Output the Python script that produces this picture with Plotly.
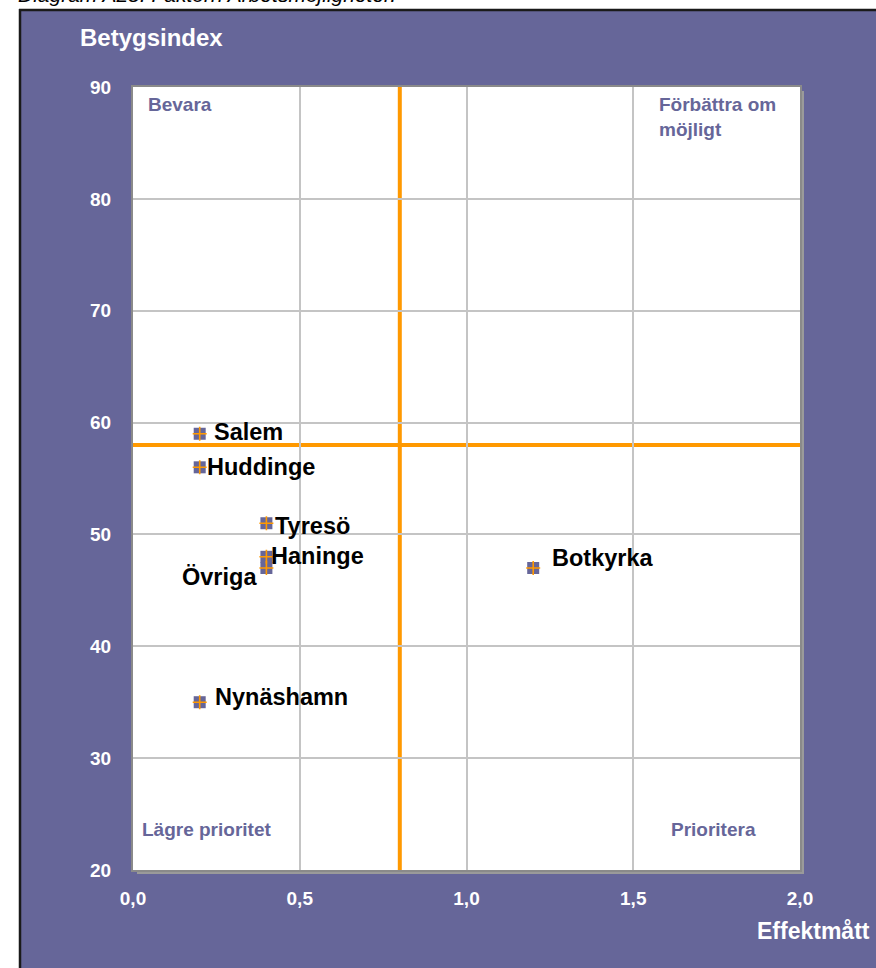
import plotly.graph_objects as go

# ---- data ----
names = ["Salem", "Huddinge", "Tyresö", "Haninge", "Övriga", "Botkyrka", "Nynäshamn"]
effektmatt = [0.2, 0.2, 0.4, 0.4, 0.4, 1.2, 0.2]
betygsindex = [59, 56, 51, 48, 47, 47, 35]
mean_effekt = 0.8
mean_betyg = 58
x_ticks = [0.0, 0.5, 1.0, 1.5, 2.0]
x_ticklabels = ["0,0", "0,5", "1,0", "1,5", "2,0"]
y_ticks = [20, 30, 40, 50, 60, 70, 80, 90]
y_ticklabels = ["20", "30", "40", "50", "60", "70", "80", "90"]
quadrants = ["Bevara", "Förbättra om<br>möjligt", "Lägre prioritet", "Prioritera"]
caption = "Diagram A28: Faktorn Arbetsmöjligheter."
x_title = "Effektmått"
y_title = "Betygsindex"

# ---- styling / layout ----
W, H = 876, 968
ML, MR, MT, MB = 133, 76, 87, 98
PW, PH = W - ML - MR, H - MT - MB
PURPLE = "#666699"
ORANGE = "#FF9900"
FONT = "Liberation Sans, Arial, sans-serif"


def px_x(p):
    return (p - ML) / PW


def px_y(p):
    return (H - MB - p) / PH


# label offsets: (xanchor, xshift, yshift)
label_pos = {
    "Salem": ("left", 12, 2),
    "Huddinge": ("left", 5, 0),
    "Tyresö": ("left", 7, -3),
    "Haninge": ("left", 3, 1),
    "Övriga": ("right", -7, -9),
    "Botkyrka": ("left", 17, 10),
    "Nynäshamn": ("left", 13, 5),
}

fig = go.Figure()

fig.add_trace(go.Scatter(
    x=effektmatt, y=betygsindex, mode="markers",
    marker=dict(symbol="square", size=12, color=PURPLE, line=dict(width=0)),
    hoverinfo="skip", showlegend=False, cliponaxis=False))
fig.add_trace(go.Scatter(
    x=effektmatt, y=betygsindex, mode="markers",
    marker=dict(symbol="cross-thin", size=10, color=ORANGE, line=dict(width=1.6, color=ORANGE)),
    text=names, hoverinfo="text", showlegend=False, cliponaxis=False))

shapes = [
    # white page outside the purple panel
    dict(type="rect", xref="paper", yref="paper", x0=px_x(-5), x1=px_x(19), y0=px_y(H + 5), y1=px_y(-5),
         fillcolor="white", line=dict(width=0), layer="below"),
    dict(type="rect", xref="paper", yref="paper", x0=px_x(-5), x1=px_x(W + 5), y0=px_y(9), y1=px_y(-5),
         fillcolor="white", line=dict(width=0), layer="below"),
    # dark border of panel
    dict(type="line", xref="paper", yref="paper", x0=px_x(20), x1=px_x(20), y0=px_y(9), y1=px_y(H + 5),
         line=dict(color="#1a1a1a", width=2.5), layer="below"),
    dict(type="line", xref="paper", yref="paper", x0=px_x(19), x1=px_x(W + 5), y0=px_y(10), y1=px_y(10),
         line=dict(color="#1a1a1a", width=2.5), layer="below"),
    # plot-area shadow (right and bottom strips)
    dict(type="rect", xref="paper", yref="paper", x0=px_x(W - MR), x1=px_x(W - MR + 4),
         y0=px_y(H - MB + 4), y1=px_y(MT + 4),
         fillcolor="#9a9a9a", line=dict(width=0), layer="below"),
    dict(type="rect", xref="paper", yref="paper", x0=px_x(ML + 4), x1=px_x(W - MR + 4),
         y0=px_y(H - MB + 4), y1=px_y(H - MB),
         fillcolor="#9a9a9a", line=dict(width=0), layer="below"),
    # mean lines
    dict(type="line", xref="x", yref="y", x0=mean_effekt, x1=mean_effekt, y0=20, y1=90,
         line=dict(color=ORANGE, width=4), layer="below"),
    dict(type="line", xref="x", yref="y", x0=0, x1=2, y0=mean_betyg, y1=mean_betyg,
         line=dict(color=ORANGE, width=4), layer="below"),
]

annotations = []
for n, xv, yv in zip(names, effektmatt, betygsindex):
    xa, xs, ys = label_pos[n]
    annotations.append(dict(x=xv, y=yv, xref="x", yref="y", text=n, showarrow=False,
                            xanchor=xa, yanchor="middle", xshift=xs, yshift=ys,
                            font=dict(family=FONT, size=23.5, color="black", weight="bold")))

qfont = dict(family=FONT, size=19, color=PURPLE, weight="bold")
annotations += [
    dict(x=px_x(146), y=px_y(105), xref="paper", yref="paper", text=quadrants[0], showarrow=False,
         xanchor="left", yanchor="middle", font=qfont),
    dict(x=px_x(657), y=px_y(117), xref="paper", yref="paper", text=quadrants[1], showarrow=False,
         xanchor="left", yanchor="middle", align="left", font=qfont),
    dict(x=px_x(140), y=px_y(829), xref="paper", yref="paper", text=quadrants[2], showarrow=False,
         xanchor="left", yanchor="middle", font=qfont),
    dict(x=px_x(669), y=px_y(829), xref="paper", yref="paper", text=quadrants[3], showarrow=False,
         xanchor="left", yanchor="middle", font=qfont),
    dict(x=px_x(78), y=px_y(37), xref="paper", yref="paper", text=y_title, showarrow=False,
         xanchor="left", yanchor="middle", font=dict(family=FONT, size=24, color="white", weight="bold")),
    dict(x=px_x(755), y=px_y(931), xref="paper", yref="paper", text=x_title, showarrow=False,
         xanchor="left", yanchor="middle", font=dict(family=FONT, size=23, color="white", weight="bold")),
    dict(x=px_x(16), y=px_y(8), xref="paper", yref="paper", text=caption, showarrow=False,
         xanchor="left", yanchor="bottom", font=dict(family=FONT, size=21, color="black", style="italic")),
]

tickfont = dict(family=FONT, size=19, color="white", weight="bold")
fig.update_layout(
    width=W, height=H,
    margin=dict(l=ML, r=MR, t=MT, b=MB, pad=0),
    paper_bgcolor=PURPLE, plot_bgcolor="white",
    shapes=shapes, annotations=annotations,
    xaxis=dict(range=[0, 2], tickvals=x_ticks, ticktext=x_ticklabels, tickfont=tickfont,
               showgrid=True, gridcolor="#c4c4c4", gridwidth=1.5, zeroline=False,
               showline=True, mirror=True, linecolor="#8a8a8a", linewidth=2,
               ticks="", ticklabelstandoff=10, fixedrange=True),
    yaxis=dict(range=[20, 90], tickvals=y_ticks, ticktext=y_ticklabels, tickfont=tickfont,
               showgrid=True, gridcolor="#c4c4c4", gridwidth=1.5, zeroline=False,
               showline=True, mirror=True, linecolor="#8a8a8a", linewidth=2,
               ticks="", ticklabelstandoff=16, fixedrange=True),
)

fig.write_html("out.html", config={"displayModeBar": False},
               post_script="document.body.style.margin='0';document.body.style.overflow='hidden';")
